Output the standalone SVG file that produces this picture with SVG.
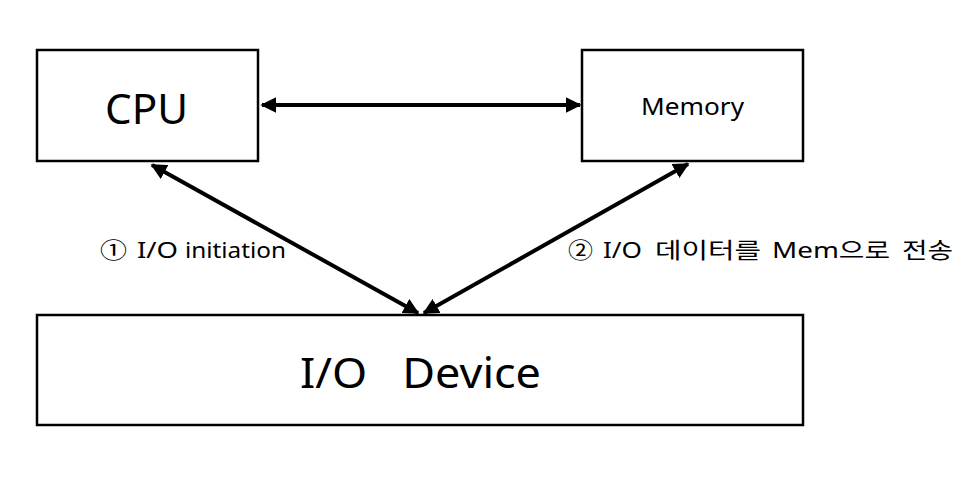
<svg xmlns="http://www.w3.org/2000/svg" width="979" height="480" viewBox="0 0 979 480">
<style>
.box{fill:#fff;stroke:#000;stroke-width:2.5}
.t{font-family:"Noto Sans","Noto Sans CJK KR",sans-serif;fill:#000}
.c{stroke:#000;stroke-width:4;fill:none;marker-start:url(#ah);marker-end:url(#ah)}
</style>
<defs>
<marker id="ah" viewBox="0 0 10 10" refX="9" refY="5" markerWidth="4" markerHeight="4" orient="auto-start-reverse" markerUnits="strokeWidth">
<path d="M0,0 L10,5 L0,10 z" fill="#000"/>
</marker>
</defs>
<rect width="979" height="480" fill="#fff"/>
<g id="cpu"><rect class="box" x="37" y="50" width="221" height="111"/><text class="t" x="105" y="124" font-size="41" textLength="83" lengthAdjust="spacingAndGlyphs">CPU</text></g>
<g id="memory"><rect class="box" x="582" y="50" width="221" height="111"/><text class="t" x="641" y="115" font-size="24" textLength="103" lengthAdjust="spacingAndGlyphs">Memory</text></g>
<g id="io"><rect class="box" x="37" y="315" width="766" height="110"/><text class="t" x="300" y="388" font-size="41" xml:space="preserve" textLength="241" lengthAdjust="spacingAndGlyphs">I/O   Device</text></g>
<g id="connectors">
<line class="c" x1="262" y1="105" x2="580" y2="105"/>
<line class="c" x1="152" y1="165" x2="418" y2="313"/>
<line class="c" x1="688" y1="164" x2="424" y2="313"/>
</g>
<g id="labels">
<text class="t" y="258" font-size="22"><tspan x="100" textLength="27" lengthAdjust="spacingAndGlyphs">①</tspan> <tspan x="137" textLength="41" lengthAdjust="spacingAndGlyphs">I/O</tspan> <tspan x="185" textLength="101" lengthAdjust="spacingAndGlyphs">initiation</tspan></text>
<text class="t" y="258" font-size="22"><tspan x="568" textLength="25" lengthAdjust="spacingAndGlyphs">②</tspan> <tspan x="603" textLength="39" lengthAdjust="spacingAndGlyphs">I/O</tspan> <tspan x="655" textLength="106" lengthAdjust="spacingAndGlyphs">데이터를</tspan> <tspan x="772" textLength="118" lengthAdjust="spacingAndGlyphs">Mem으로</tspan> <tspan x="902" textLength="51" lengthAdjust="spacingAndGlyphs">전송</tspan></text>
</g>
</svg>
